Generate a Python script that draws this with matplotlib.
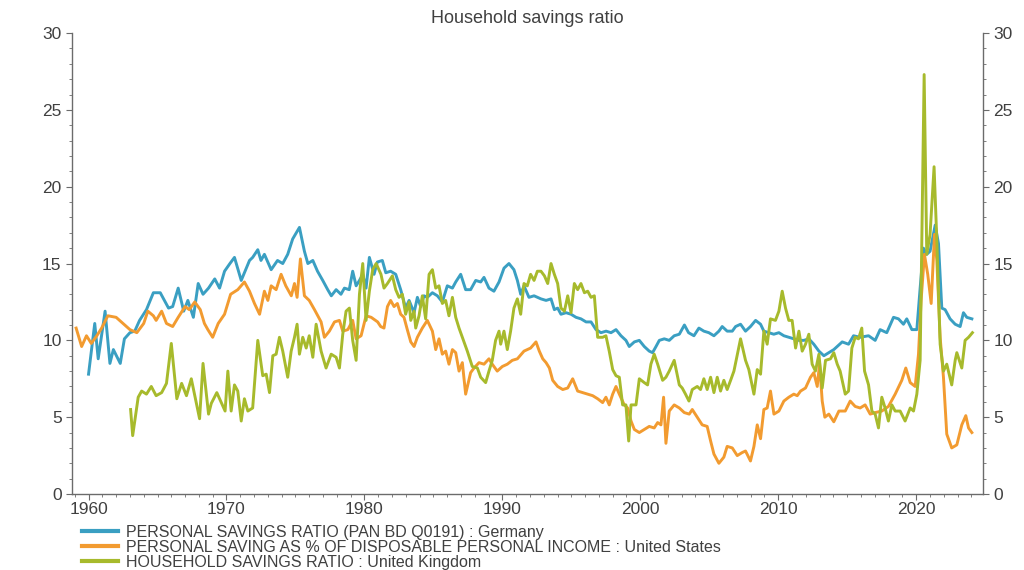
import matplotlib
matplotlib.use('Agg')
import matplotlib.pyplot as plt
from matplotlib.ticker import MultipleLocator

# Germany - personal savings ratio
de_years = [1960.0, 1960.45, 1960.7, 1961.2, 1961.55, 1961.8, 1962.3, 1962.6, 1963.0, 1963.35,
            1963.7, 1964.2, 1964.7, 1965.2, 1965.8, 1966.1, 1966.5, 1966.9, 1967.2, 1967.6,
            1967.95, 1968.3, 1968.7, 1969.15, 1969.5, 1969.86, 1970.25, 1970.58, 1971.07, 1971.67,
            1971.9, 1972.27, 1972.5, 1972.75, 1973.24, 1973.7, 1974.08, 1974.44, 1974.8, 1975.29,
            1975.65, 1975.9, 1976.26, 1976.6, 1976.98, 1977.34, 1977.6, 1977.95, 1978.3, 1978.55,
            1978.9, 1979.15, 1979.4, 1979.64, 1979.88, 1980.12, 1980.36, 1980.7, 1980.94, 1981.3,
            1981.55, 1981.9, 1982.27, 1982.63, 1982.99, 1983.24, 1983.6, 1983.84, 1984.08, 1984.32,
            1984.56, 1984.93, 1985.29, 1985.65, 1986.01, 1986.38, 1986.62, 1986.98, 1987.34, 1987.7,
            1988.07, 1988.43, 1988.67, 1989.03, 1989.39, 1989.76, 1990.12, 1990.48, 1990.84, 1991.09,
            1991.33, 1991.57, 1991.93, 1992.3, 1992.8, 1993.17, 1993.53, 1993.77, 1994.01, 1994.25,
            1994.62, 1994.98, 1995.34, 1995.7, 1996.07, 1996.43, 1996.79, 1997.15, 1997.52, 1997.88,
            1998.24, 1998.6, 1998.96, 1999.2, 1999.57, 1999.93, 2000.29, 2000.65, 2000.89, 2001.14,
            2001.38, 2001.74, 2002.1, 2002.46, 2002.83, 2003.2, 2003.5, 2003.89, 2004.25, 2004.61,
            2004.97, 2005.34, 2005.7, 2005.94, 2006.3, 2006.67, 2006.91, 2007.27, 2007.63, 2007.99,
            2008.36, 2008.72, 2008.96, 2009.32, 2009.68, 2010.05, 2010.41, 2010.77, 2011.13, 2011.5,
            2011.86, 2012.22, 2012.58, 2012.95, 2013.31, 2013.67, 2014.03, 2014.4, 2014.64, 2015.1,
            2015.46, 2015.94, 2016.55, 2017.03, 2017.39, 2017.87, 2018.36, 2018.72, 2019.08, 2019.32,
            2019.69, 2020.05, 2020.29, 2020.53, 2020.77, 2021.01, 2021.38, 2021.62, 2021.86, 2022.1,
            2022.46, 2022.83, 2023.19, 2023.43, 2023.67, 2024.04]
de_vals = [7.8, 11.1, 8.8, 11.9, 8.5, 9.4, 8.5, 10.1, 10.5, 10.6,
           11.3, 12.0, 13.1, 13.1, 12.1, 12.2, 13.4, 11.9, 12.6, 11.5,
           13.7, 13.0, 13.4, 14.0, 13.4, 14.5, 15.0, 15.4, 13.9, 15.2,
           15.4, 15.9, 15.2, 15.6, 14.6, 15.2, 15.0, 15.6, 16.6, 17.35,
           15.8, 15.0, 15.2, 14.5, 13.9, 13.3, 12.9, 13.3, 13.0, 13.4,
           13.3, 14.5, 13.55, 13.9, 14.3, 13.4, 15.4, 14.3, 15.1, 15.2,
           14.4, 14.5, 14.3, 13.3, 12.1, 12.6, 11.8, 12.8, 12.2, 12.9,
           12.8, 13.1, 12.9, 12.5, 13.55, 13.4, 13.8, 14.3, 13.3, 13.3,
           13.9, 13.8, 14.1, 13.4, 13.2, 13.8, 14.7, 15.0, 14.6, 13.9,
           13.0, 13.55, 12.8, 12.9, 12.7, 12.6, 12.7, 12.0, 12.1, 11.7,
           11.8, 11.7, 11.5, 11.4, 11.2, 11.2, 10.7, 10.5, 10.6, 10.5,
           10.7, 10.3, 10.0, 9.6, 9.9, 10.0, 9.6, 9.3, 9.2, 9.6,
           10.0, 10.1, 10.0, 10.3, 10.4, 11.0, 10.5, 10.3, 10.8, 10.6,
           10.5, 10.3, 10.6, 10.9, 10.6, 10.6, 10.9, 11.05, 10.6, 10.9,
           11.3, 11.05, 10.6, 10.5, 10.4, 10.5, 10.3, 10.2, 10.1, 10.0,
           10.0, 10.1, 9.75, 9.3, 9.0, 9.2, 9.4, 9.7, 9.9, 9.75,
           10.3, 10.2, 10.3, 10.0, 10.7, 10.5, 11.5, 11.4, 11.05, 11.4,
           10.7, 10.7, 13.4, 16.0, 15.6, 15.8, 17.5, 16.3, 12.1, 12.0,
           11.4, 11.05, 10.9, 11.8, 11.5, 11.4]

# United States - personal saving as % of disposable personal income
us_years = [1959.1, 1959.5, 1959.85, 1960.2, 1960.6, 1960.95, 1961.4, 1962.0, 1962.5, 1963.0,
            1963.5, 1964.0, 1964.3, 1964.7, 1964.9, 1965.3, 1965.65, 1966.1, 1966.5, 1967.0,
            1967.3, 1967.7, 1968.1, 1968.4, 1968.65, 1969.0, 1969.4, 1969.86, 1970.3, 1970.82,
            1971.3, 1971.67, 1972.03, 1972.4, 1972.75, 1973.0, 1973.24, 1973.6, 1973.96, 1974.3,
            1974.7, 1974.93, 1975.12, 1975.36, 1975.65, 1976.0, 1976.38, 1976.86, 1977.1, 1977.46,
            1977.83, 1978.19, 1978.43, 1978.8, 1979.15, 1979.4, 1979.76, 1980.12, 1980.49, 1980.96,
            1981.18, 1981.42, 1981.67, 1981.9, 1982.15, 1982.39, 1982.63, 1982.87, 1983.11, 1983.36,
            1983.6, 1983.84, 1984.2, 1984.56, 1984.93, 1985.17, 1985.41, 1985.65, 1985.89, 1986.13,
            1986.38, 1986.62, 1986.86, 1987.1, 1987.34, 1987.7, 1987.95, 1988.31, 1988.67, 1989.03,
            1989.27, 1989.63, 1990.0, 1990.36, 1990.72, 1991.09, 1991.57, 1992.05, 1992.44, 1992.68,
            1992.93, 1993.17, 1993.41, 1993.65, 1994.01, 1994.38, 1994.74, 1995.1, 1995.46, 1995.82,
            1996.19, 1996.55, 1996.91, 1997.27, 1997.51, 1997.75, 1998.0, 1998.24, 1998.48, 1998.84,
            1999.08, 1999.33, 1999.57, 1999.93, 2000.29, 2000.65, 2001.01, 2001.26, 2001.5, 2001.69,
            2001.86, 2002.1, 2002.46, 2002.83, 2003.19, 2003.55, 2003.77, 2004.13, 2004.49, 2004.85,
            2005.1, 2005.34, 2005.7, 2006.06, 2006.3, 2006.67, 2007.03, 2007.39, 2007.63, 2007.99,
            2008.24, 2008.48, 2008.72, 2008.96, 2009.2, 2009.44, 2009.69, 2010.05, 2010.41, 2010.77,
            2011.13, 2011.38, 2011.62, 2011.98, 2012.34, 2012.58, 2012.83, 2013.0, 2013.19, 2013.38,
            2013.67, 2014.03, 2014.4, 2014.86, 2015.22, 2015.58, 2015.94, 2016.3, 2016.67, 2017.03,
            2017.51, 2017.99, 2018.48, 2018.96, 2019.25, 2019.57, 2019.93, 2020.17, 2020.36, 2020.6,
            2020.84, 2021.09, 2021.33, 2021.5, 2021.74, 2021.98, 2022.22, 2022.58, 2022.95, 2023.31,
            2023.6, 2023.8, 2024.04]
us_vals = [10.8, 9.6, 10.3, 9.8, 10.3, 10.8, 11.6, 11.5, 11.1, 10.7,
           10.5, 11.1, 11.9, 11.6, 11.3, 11.9, 11.1, 10.9, 11.5, 12.2,
           12.0, 12.5, 12.0, 11.1, 10.7, 10.2, 11.1, 11.7, 13.0, 13.3,
           13.8, 13.2, 12.4, 11.7, 13.2, 12.6, 13.55, 13.3, 14.3, 13.55,
           12.9, 13.7, 12.8, 15.3, 12.9, 12.6, 12.0, 11.2, 10.2, 10.6,
           11.2, 11.3, 10.6, 10.7, 11.3, 10.1, 10.3, 11.6, 11.5, 11.2,
           10.9, 10.8, 12.2, 12.6, 12.2, 12.4, 11.7, 11.5, 10.7, 9.9,
           9.6, 10.2, 10.8, 11.3, 10.6, 9.4, 10.1, 9.1, 9.3, 8.45,
           9.4, 9.2, 8.0, 8.55, 6.5, 7.9, 8.2, 8.55, 8.45, 8.8,
           8.45, 8.0, 8.3, 8.45, 8.7, 8.8, 9.3, 9.5, 9.9, 9.3,
           8.8, 8.55, 8.2, 7.4, 7.0, 6.8, 6.9, 7.5, 6.7, 6.6,
           6.5, 6.4, 6.2, 5.95, 6.3, 5.8, 6.5, 7.0, 6.5, 5.8,
           5.6, 4.75, 4.2, 4.0, 4.2, 4.4, 4.3, 4.65, 4.5, 6.3,
           3.3, 5.4, 5.8, 5.6, 5.3, 5.2, 5.5, 5.0, 4.5, 4.4,
           3.45, 2.6, 2.0, 2.4, 3.1, 3.0, 2.5, 2.7, 2.8, 2.15,
           3.1, 4.5, 3.6, 5.5, 5.6, 6.7, 5.2, 5.4, 6.05, 6.3,
           6.5, 6.4, 6.7, 6.9, 7.6, 7.9, 7.0, 8.5, 6.05, 5.0,
           5.2, 4.7, 5.4, 5.4, 6.05, 5.7, 5.6, 5.8, 5.2, 5.3,
           5.4, 5.7, 6.5, 7.4, 8.2, 7.25, 7.0, 9.1, 12.6, 15.6,
           14.3, 12.4, 16.9, 15.2, 10.2, 7.6, 3.9, 3.0, 3.2, 4.5,
           5.1, 4.3, 4.0]

# United Kingdom - household savings ratio
uk_years = [1963.05, 1963.2, 1963.6, 1963.85, 1964.2, 1964.55, 1964.9, 1965.3, 1965.65, 1966.0,
            1966.4, 1966.75, 1967.1, 1967.45, 1968.05, 1968.3, 1968.7, 1968.9, 1969.3, 1969.65,
            1969.9, 1970.1, 1970.34, 1970.58, 1970.82, 1971.07, 1971.3, 1971.55, 1971.9, 1972.27,
            1972.63, 1972.88, 1973.12, 1973.36, 1973.6, 1973.84, 1974.08, 1974.44, 1974.69, 1974.93,
            1975.12, 1975.29, 1975.53, 1975.78, 1976.0, 1976.26, 1976.5, 1976.86, 1977.22, 1977.59,
            1977.95, 1978.19, 1978.43, 1978.67, 1978.91, 1979.15, 1979.4, 1979.64, 1979.88, 1980.12,
            1980.36, 1980.6, 1980.85, 1981.2, 1981.42, 1981.67, 1982.03, 1982.27, 1982.51, 1982.75,
            1982.99, 1983.24, 1983.36, 1983.6, 1983.72, 1983.96, 1984.2, 1984.44, 1984.69, 1984.93,
            1985.17, 1985.41, 1985.65, 1985.89, 1986.13, 1986.38, 1986.62, 1986.86, 1987.1, 1987.46,
            1987.82, 1988.19, 1988.43, 1988.79, 1989.03, 1989.27, 1989.51, 1989.76, 1989.88, 1990.12,
            1990.36, 1990.6, 1990.84, 1991.09, 1991.33, 1991.57, 1991.81, 1992.05, 1992.3, 1992.54,
            1992.8, 1993.05, 1993.29, 1993.53, 1993.77, 1994.01, 1994.25, 1994.5, 1994.74, 1994.98,
            1995.22, 1995.46, 1995.7, 1995.95, 1996.19, 1996.43, 1996.67, 1996.91, 1997.27, 1997.51,
            1997.75, 1998.0, 1998.24, 1998.48, 1998.72, 1998.96, 1999.16, 1999.33, 1999.69, 1999.93,
            2000.29, 2000.53, 2000.77, 2001.01, 2001.26, 2001.62, 2001.86, 2002.1, 2002.46, 2002.83,
            2003.04, 2003.28, 2003.53, 2003.77, 2004.13, 2004.37, 2004.61, 2004.85, 2005.1, 2005.34,
            2005.58, 2005.82, 2006.06, 2006.3, 2006.55, 2006.79, 2007.27, 2007.63, 2007.87, 2008.24,
            2008.48, 2008.72, 2008.96, 2009.2, 2009.44, 2009.8, 2010.05, 2010.29, 2010.53, 2010.77,
            2011.01, 2011.26, 2011.5, 2011.74, 2011.98, 2012.22, 2012.46, 2012.7, 2012.95, 2013.19,
            2013.43, 2013.79, 2014.03, 2014.28, 2014.49, 2014.86, 2015.1, 2015.34, 2015.58, 2015.82,
            2016.06, 2016.26, 2016.55, 2016.79, 2017.03, 2017.27, 2017.51, 2017.75, 2017.99, 2018.24,
            2018.48, 2018.84, 2019.2, 2019.57, 2019.81, 2020.05, 2020.29, 2020.58, 2020.77, 2021.01,
            2021.3, 2021.5, 2021.74, 2021.98, 2022.22, 2022.58, 2022.83, 2022.95, 2023.31, 2023.55,
            2023.8, 2024.08]
uk_vals = [5.5, 3.8, 6.3, 6.7, 6.5, 7.0, 6.4, 6.6, 7.2, 9.8,
           6.2, 7.2, 6.4, 7.5, 4.9, 8.5, 5.2, 5.9, 6.6, 5.9,
           5.4, 8.0, 5.4, 7.1, 6.7, 4.75, 6.2, 5.4, 5.6, 10.0,
           7.7, 7.8, 6.6, 9.0, 9.1, 10.2, 9.3, 7.6, 9.3, 10.2,
           11.05, 9.1, 10.2, 9.5, 10.3, 8.9, 11.05, 9.3, 8.2, 9.1,
           8.9, 8.2, 10.4, 11.9, 12.1, 10.0, 8.7, 13.0, 15.0, 11.3,
           13.2, 14.6, 15.0, 14.3, 13.4, 13.7, 14.2, 13.3, 12.8, 13.0,
           11.7, 12.5, 11.3, 11.9, 10.8, 11.6, 12.9, 11.4, 14.3, 14.6,
           13.4, 13.55, 12.4, 12.6, 11.6, 12.8, 11.5, 10.8, 10.2, 9.3,
           8.3, 8.2, 7.6, 7.25, 8.0, 8.7, 10.0, 10.6, 9.75, 10.6,
           9.4, 10.6, 12.1, 12.7, 11.7, 13.7, 13.55, 14.3, 13.9, 14.5,
           14.5, 14.2, 13.7, 15.0, 14.3, 13.7, 12.1, 11.9, 12.9, 11.8,
           13.7, 13.3, 13.7, 13.1, 13.2, 12.8, 12.9, 10.2, 10.2, 10.3,
           9.3, 8.1, 7.7, 7.6, 5.8, 5.8, 3.45, 5.8, 5.8, 7.5,
           7.25, 7.1, 8.45, 9.1, 8.45, 7.4, 7.6, 8.0, 8.7, 7.1,
           6.9, 6.5, 6.05, 6.8, 7.0, 6.8, 7.5, 6.8, 7.6, 6.6,
           7.6, 6.7, 7.4, 6.8, 7.4, 8.0, 10.1, 8.7, 8.1, 6.5,
           8.1, 7.8, 10.6, 9.75, 11.4, 11.3, 11.9, 13.2, 12.1, 11.3,
           11.3, 9.5, 10.6, 9.3, 9.75, 10.4, 8.45, 8.0, 9.1, 6.9,
           8.7, 8.8, 9.2, 8.45, 8.0, 6.5, 6.7, 9.5, 10.2, 10.1,
           10.8, 8.0, 7.1, 5.4, 5.2, 4.3, 6.3, 5.6, 4.75, 5.8,
           5.4, 5.4, 4.75, 5.6, 5.4, 6.5, 8.7, 27.3, 15.6, 16.9,
           21.3, 16.5, 9.75, 8.0, 8.45, 7.1, 8.7, 9.2, 8.2, 10.0,
           10.2, 10.5]

labels = ['PERSONAL SAVINGS RATIO (PAN BD Q0191) : Germany',
          'PERSONAL SAVING AS % OF DISPOSABLE PERSONAL INCOME : United States',
          'HOUSEHOLD SAVINGS RATIO : United Kingdom']
colors = ['#3a9fc2', '#f29b30', '#a7ba2c']

plt.rcParams['font.family'] = ['Liberation Sans', 'DejaVu Sans']
text_col = '#404040'
axis_col = '#6b6b6b'

fig = plt.figure(figsize=(10.24, 5.7), dpi=100)
ax = fig.add_axes([0.0703, 0.1333, 0.8897, 0.8087])

ax.plot(de_years, de_vals, color=colors[0], lw=2.1, label=labels[0], solid_joinstyle='round')
ax.plot(us_years, us_vals, color=colors[1], lw=2.1, label=labels[1], solid_joinstyle='round')
ax.plot(uk_years, uk_vals, color=colors[2], lw=2.1, label=labels[2], solid_joinstyle='round')

ax.set_xlim(1958.8, 2024.85)
ax.set_ylim(0, 30)
ax.xaxis.set_major_locator(MultipleLocator(10))
ax.xaxis.set_minor_locator(MultipleLocator(1))
ax.yaxis.set_major_locator(MultipleLocator(5))
ax.yaxis.set_minor_locator(MultipleLocator(1))

ax.spines['top'].set_visible(False)
for s in ['left', 'right', 'bottom']:
    ax.spines[s].set_color(axis_col)
    ax.spines[s].set_linewidth(1.0)

ax.tick_params(which='both', direction='out', colors=axis_col, labelcolor=text_col,
               left=True, right=True, labelleft=True, labelright=True)
ax.tick_params(which='major', length=4, labelsize=12.5)
ax.tick_params(which='minor', length=2.5)
ax.tick_params(axis='x', which='major', pad=1.5)

fig.text(0.515, 0.968, 'Household savings ratio', ha='center', va='center',
         fontsize=13, color=text_col)

leg = fig.legend(loc='upper left', bbox_to_anchor=(0.080, 0.0798), frameon=False,
                 fontsize=11.5, handlelength=2.25, handletextpad=0.5, labelspacing=0.0,
                 borderaxespad=0, borderpad=0)
for t in leg.get_texts():
    t.set_color(text_col)
for h in leg.get_lines():
    h.set_linewidth(3)

fig.savefig('out.png', dpi=100)
